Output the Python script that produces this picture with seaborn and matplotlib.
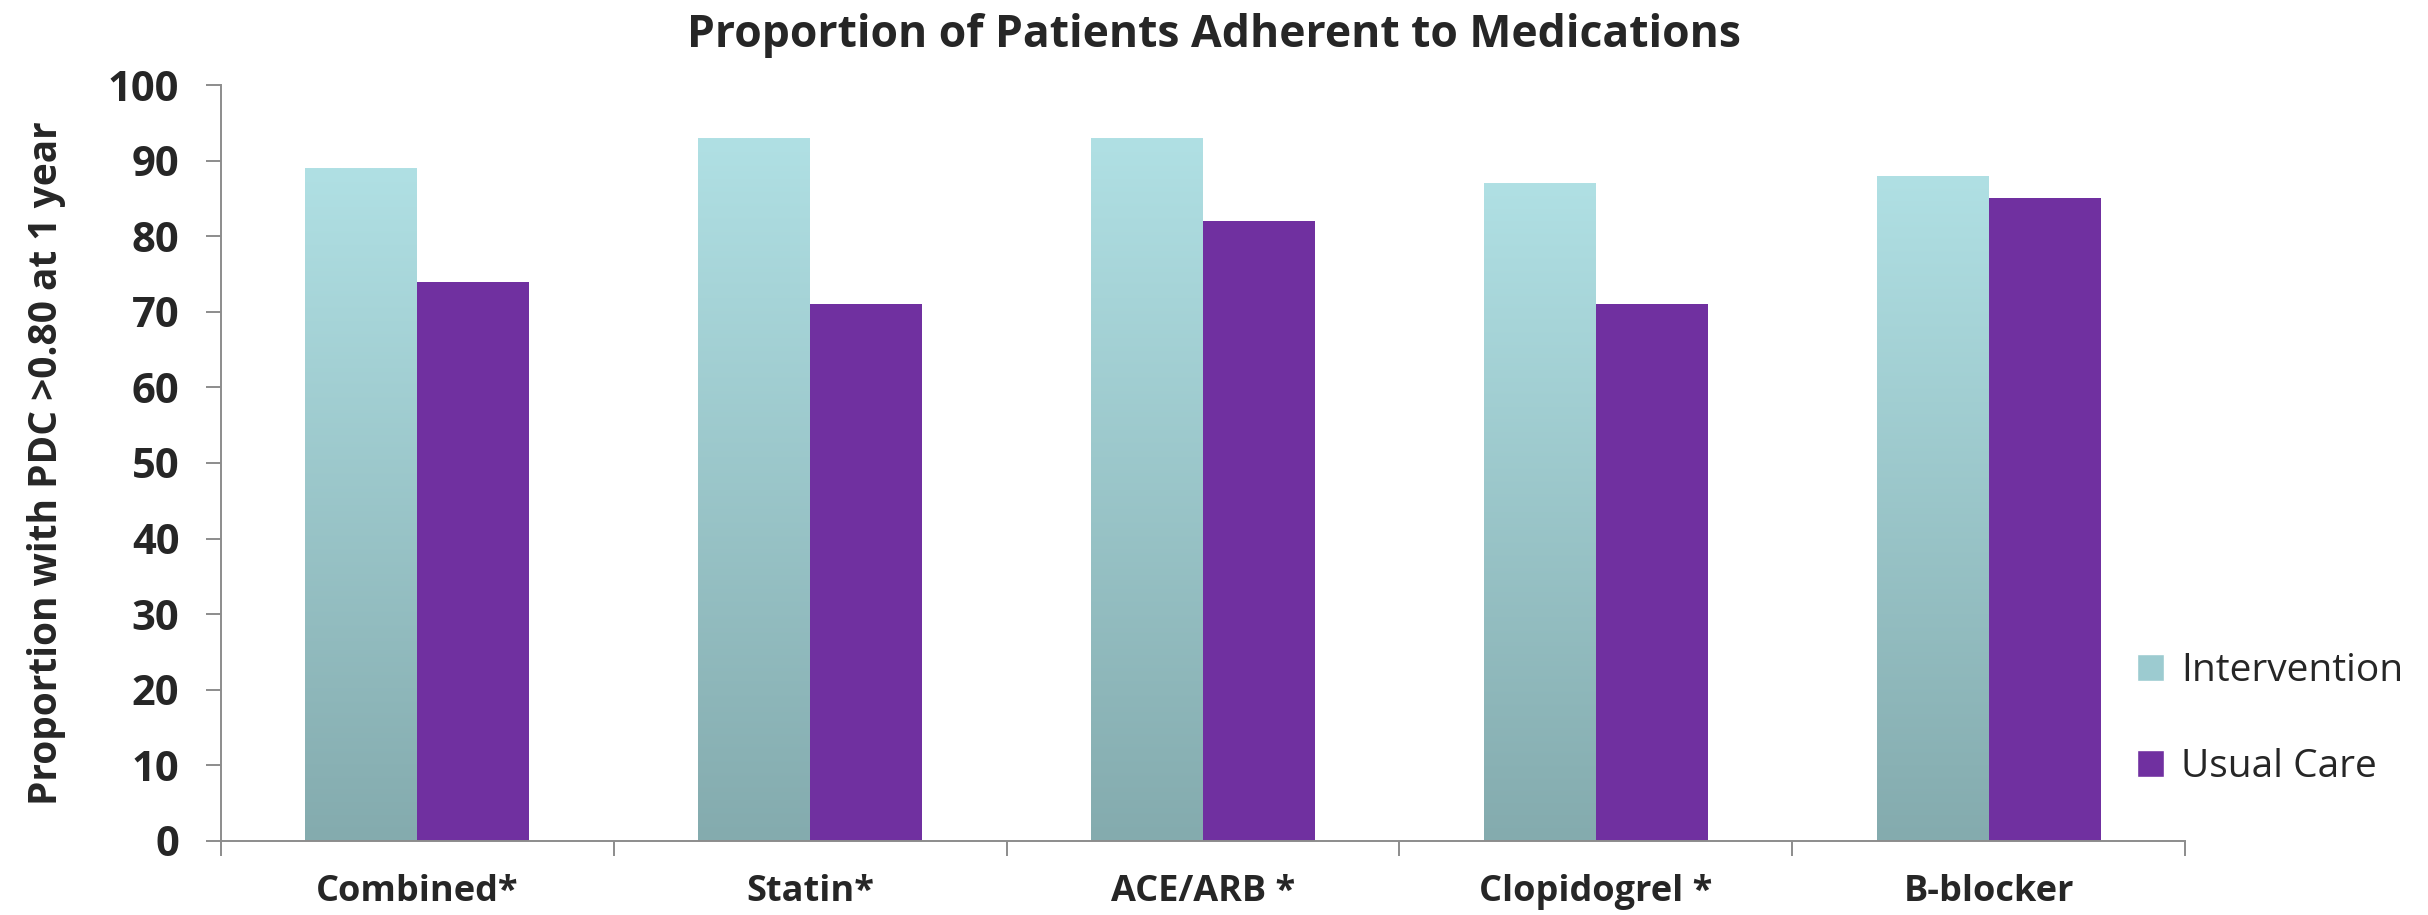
import numpy as np
import pandas as pd
import matplotlib
matplotlib.use("Agg")
import matplotlib.pyplot as plt
from matplotlib.colors import LinearSegmentedColormap
from matplotlib.patches import Patch
import seaborn as sns

categories = ["Combined*", "Statin*", "ACE/ARB *", "Clopidogrel *", "B-blocker"]
intervention = [89, 93, 93, 87, 88]
usual_care = [74, 71, 82, 71, 85]
groups = ["Intervention", "Usual Care"]

df = pd.DataFrame({
    "Medication": categories * 2,
    "Proportion": intervention + usual_care,
    "Group": [groups[0]] * len(categories) + [groups[1]] * len(categories),
})

sns.set_style("white")
plt.rcParams["font.family"] = ["Open Sans", "DejaVu Sans"]

purple = "#7030A0"
teal_top = "#B0E0E4"
teal_bottom = "#84ABAE"

fig, ax = plt.subplots(figsize=(24.28, 9.15), dpi=100)
fig.subplots_adjust(left=0.091, right=0.900, bottom=0.081, top=0.907)

sns.barplot(data=df, x="Medication", y="Proportion", hue="Group",
            order=categories, hue_order=groups,
            palette={groups[0]: "#9CCBD0", groups[1]: purple},
            width=0.57, gap=0, saturation=1, errorbar=None,
            legend=False, ax=ax)

# gradient fill on the intervention bars (light top, dark bottom)
cmap = LinearSegmentedColormap.from_list("teal", [teal_bottom, teal_top])
grad = np.linspace(0, 1, 256).reshape(-1, 1)
for bar in ax.containers[0]:
    x0, y0 = bar.get_x(), bar.get_y()
    w, h = bar.get_width(), bar.get_height()
    im = ax.imshow(grad, cmap=cmap, origin="lower", aspect="auto",
                   extent=[x0, x0 + w, y0, y0 + h], zorder=bar.get_zorder())
    im.set_clip_path(bar)
    bar.set_facecolor("none")
for bar in ax.containers[1]:
    bar.set_edgecolor("none")

ax.set_xlim(-0.5, len(categories) - 0.5)
ax.set_ylim(0, 100)
ax.set_yticks(range(0, 101, 10))

# category boundaries get the tick marks, labels sit in between
ax.set_xticks(np.arange(-0.5, len(categories), 1))
ax.set_xticklabels([])
ax.set_xticks(range(len(categories)), minor=True)
ax.set_xticklabels(categories, minor=True, fontsize=26, fontweight="bold")
ax.tick_params(axis="x", which="major", length=11, width=1.4, color="#8c8c8c", direction="out", bottom=True)
ax.tick_params(axis="x", which="minor", length=0, pad=24)
ax.tick_params(axis="y", length=11, width=1.4, color="#8c8c8c", direction="out", left=True, pad=19)
for lab in ax.get_yticklabels():
    lab.set_fontsize(30)
    lab.set_fontweight("bold")

sns.despine(ax=ax)
for side in ["left", "bottom"]:
    ax.spines[side].set_color("#8c8c8c")
    ax.spines[side].set_linewidth(1.4)

ax.set_xlabel("")
ax.set_ylabel("Proportion with PDC >0.80 at 1 year", fontsize=28, fontweight="bold", labelpad=30)
fig.suptitle("Proportion of Patients Adherent to Medications", fontsize=32, fontweight="bold", y=0.986)

handles = [Patch(facecolor="#9CCBD0", label=groups[0]),
           Patch(facecolor=purple, label=groups[1])]
fig.legend(handles=handles, loc="center left", bbox_to_anchor=(0.872, 0.214),
           frameon=False, fontsize=28, labelspacing=1.5, handlelength=0.7,
           handleheight=0.7, handletextpad=0.45, borderpad=0)

fig.savefig("out.png", dpi=100)
